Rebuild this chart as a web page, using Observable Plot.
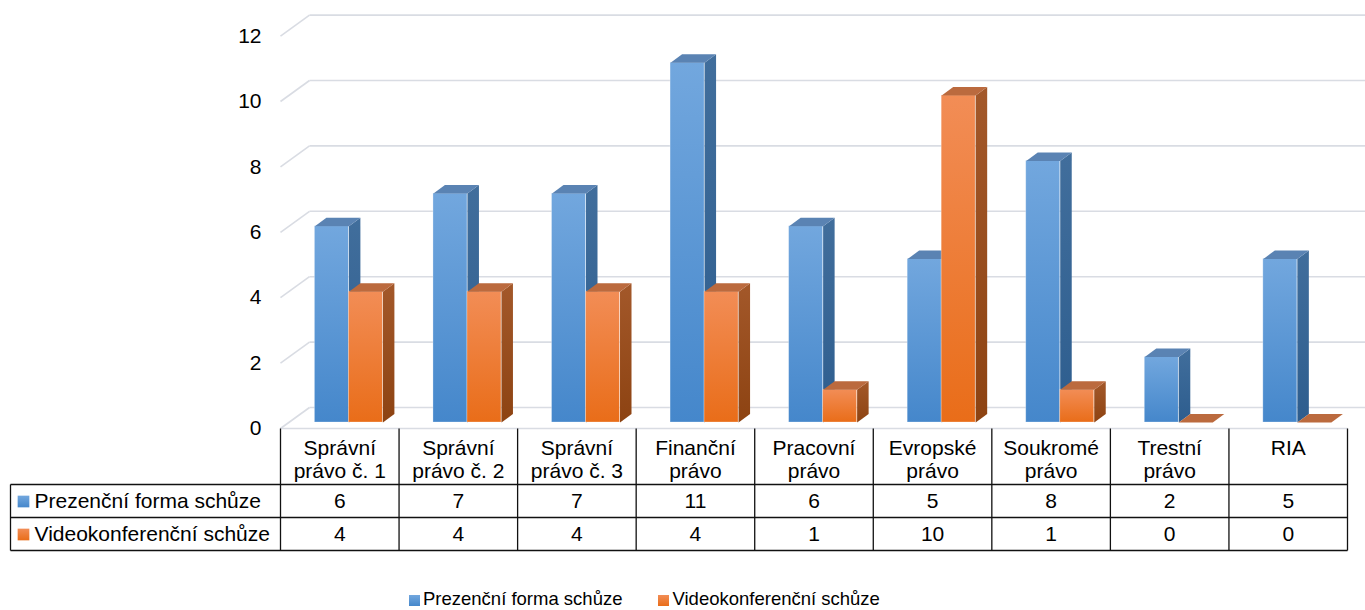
<!DOCTYPE html>
<html>
<head>
<meta charset="utf-8">
<script src="https://cdn.jsdelivr.net/npm/d3@7"></script>
<script src="https://cdn.jsdelivr.net/npm/@observablehq/plot@0.6"></script>
<style>
  body { margin: 0; background: #fff; font-family: "Liberation Sans", Arial, sans-serif; }
  #wrap { position: relative; width: 1365px; height: 610px; overflow: hidden; }
  #legend { position: absolute; left: 409px; top: 589px; height: 20px; line-height: 20px; font-size: 18.5px; color: #000; white-space: nowrap; display: flex; align-items: center; }
  .item { display: flex; align-items: center; }
  .sw { width: 11px; height: 11px; margin-right: 3px; margin-top: 3px; }
</style>
</head>
<body>
<div id="wrap">
  <div id="chart"></div>
  <div id="legend"></div>
</div>
<script>
// ---- data ----
const categories = ["Správní\nprávo č. 1", "Správní\nprávo č. 2", "Správní\nprávo č. 3", "Finanční\nprávo", "Pracovní\nprávo", "Evropské\nprávo", "Soukromé\nprávo", "Trestní\nprávo", "RIA"];
const prezencni = [6, 7, 7, 11, 6, 5, 8, 2, 5];
const videokonference = [4, 4, 4, 4, 1, 10, 1, 0, 0];
const seriesNames = ["Prezenční forma schůze", "Videokonferenční schůze"];
const yTicks = [0, 2, 4, 6, 8, 10, 12];

// ---- layout ----
const W = 1365, H = 588;
const X0 = 280, X1 = 1347, Y0 = 422, K = 32.7;
const N = categories.length;
const XU = (X1 - X0) / N;
const hx = p => p / XU;      // horizontal pixels -> x units
const vy = p => p / K;       // vertical pixels -> y units
const BAR_OFF = hx(34.4), BAR_W = hx(34);
const DEP_X = hx(11.5), DEP_Y = vy(8.5);
const WALL_X = hx(29), WALL_Y = vy(15), FRONT_Y = vy(6);
const RIGHT = hx(W - X0);

const seriesVals = [prezencni, videokonference];
const bars = [];
seriesVals.forEach((vals, s) => vals.forEach((v, i) => {
  const xl = i + BAR_OFF + s * BAR_W;
  bars.push({ s, i, v, xl, xr: xl + BAR_W });
}));
const sides = bars.flatMap((b, k) => [
  { id: k, s: b.s, x: b.xr, y: 0 },
  { id: k, s: b.s, x: b.xr, y: b.v },
  { id: k, s: b.s, x: b.xr + DEP_X, y: b.v + DEP_Y },
  { id: k, s: b.s, x: b.xr + DEP_X, y: DEP_Y }
]);
const tops = bars.flatMap((b, k) => [
  { id: k, s: b.s, x: b.xl, y: b.v },
  { id: k, s: b.s, x: b.xr, y: b.v },
  { id: k, s: b.s, x: b.xr + DEP_X, y: b.v + DEP_Y },
  { id: k, s: b.s, x: b.xl + DEP_X, y: b.v + DEP_Y }
]);

const frontFill = ["url(#gBlueF)", "url(#gOrF)"];
const sideFill = ["url(#gBlueS)", "url(#gOrS)"];
const topFill = ["#5a83b3", "#bb6a3e"];

const FONT = "'Liberation Sans', Arial, sans-serif";
const GRID = "#d9dce3";
const LINE = "#111";
const rowDy = [79, 112];
const tableBottom = 128; // px below Y0

function defs() {
  const ns = "http://www.w3.org/2000/svg";
  const d = document.createElementNS(ns, "defs");
  d.innerHTML = `
    <linearGradient id="gBlueF" x1="0" y1="0" x2="0" y2="1"><stop offset="0" stop-color="#72a7de"/><stop offset="1" stop-color="#4587cb"/></linearGradient>
    <linearGradient id="gOrF" x1="0" y1="0" x2="0" y2="1"><stop offset="0" stop-color="#f28d56"/><stop offset="1" stop-color="#e96d19"/></linearGradient>
    <linearGradient id="gBlueS" x1="0" y1="0" x2="0" y2="1"><stop offset="0" stop-color="#416e9c"/><stop offset="1" stop-color="#2d5d8e"/></linearGradient>
    <linearGradient id="gOrS" x1="0" y1="0" x2="0" y2="1"><stop offset="0" stop-color="#a3582a"/><stop offset="1" stop-color="#8d4312"/></linearGradient>`;
  return d;
}

const barMarks = [];
[0, 1].forEach(s => {
  barMarks.push(
    Plot.rectY(bars.filter(b => b.s === s), { x1: "xl", x2: "xr", y1: () => 0, y2: "v", fill: frontFill[s], stroke: "rgba(255,255,255,0.35)", strokeWidth: 0.8 }),
    Plot.line(sides.filter(p => p.s === s), { x: "x", y: "y", z: "id", fill: sideFill[s], stroke: "none" }),
    Plot.line(tops.filter(p => p.s === s), { x: "x", y: "y", z: "id", fill: topFill[s], stroke: "none" })
  );
});

const chart = Plot.plot({
  width: W,
  height: H,
  margin: 0,
  x: { domain: [0, N], range: [X0, X1], axis: null },
  y: { domain: [0, 12], range: [Y0, Y0 - 12 * K], axis: null },
  style: { fontFamily: FONT, background: "#fff" },
  marks: [
    defs,
    // back wall gridlines
    Plot.link(yTicks, { x1: () => WALL_X, x2: () => RIGHT, y1: v => v + WALL_Y, y2: v => v + WALL_Y, stroke: GRID, strokeWidth: 1.6 }),
    // left wall diagonals
    Plot.link(yTicks, { x1: () => 0, x2: () => WALL_X, y1: v => v - FRONT_Y, y2: v => v + WALL_Y, stroke: GRID, strokeWidth: 1.6 }),
    // floor front edge
    Plot.link([0], { x1: () => 0, x2: () => N, y1: () => -FRONT_Y, y2: () => -FRONT_Y, stroke: GRID, strokeWidth: 1.6 }),
    // y tick labels
    Plot.text(yTicks, { x: () => 0, y: v => v - FRONT_Y, dx: -19, text: v => String(v), textAnchor: "end", fontSize: 21, fill: "#000" }),
    ...barMarks,
    // data table: vertical lines
    Plot.link(d3.range(N + 1), { x1: d => d, x2: d => d, y1: () => -FRONT_Y, y2: () => -vy(tableBottom), stroke: LINE, strokeWidth: 1.3 }),
    // left edge of label column
    Plot.link([0], { x1: () => hx(10 - X0), x2: () => hx(10 - X0), y1: () => -vy(62), y2: () => -vy(tableBottom), stroke: LINE, strokeWidth: 1.3 }),
    // horizontal lines
    Plot.link([62, 95, tableBottom], { x1: () => hx(10 - X0), x2: () => N, y1: d => -vy(d), y2: d => -vy(d), stroke: LINE, strokeWidth: 1.3 }),
    // category names
    Plot.text(categories, { x: (d, i) => i + 0.5, y: () => 0, dy: 15, text: d => d, lineAnchor: "top", lineHeight: 1.14, fontSize: 21, fill: "#000" }),
    // values
    ...seriesVals.map((vals, s) =>
      Plot.text(vals, { x: (d, i) => i + 0.5, y: () => 0, dy: rowDy[s], text: d => String(d), fontSize: 21, fill: "#000" })
    ),
    // row labels
    ...seriesNames.map((name, s) => Plot.text([name], { x: () => 0, y: () => 0, dx: 34 - X0, dy: rowDy[s], text: d => d, textAnchor: "start", fontSize: 21, fill: "#000" })),
    ...seriesNames.map((name, s) => Plot.dot([name], { x: () => 0, y: () => 0, dx: 23 - X0, dy: rowDy[s], symbol: "square", r: 6.6, fill: s === 0 ? "url(#gBlueF)" : "url(#gOrF)", stroke: "none" }))
  ]
});
document.getElementById("chart").appendChild(chart);

// legend
const legend = document.getElementById("legend");
const swatchColors = ["linear-gradient(#72a7de,#4587cb)", "linear-gradient(#f28d56,#e96d19)"];
seriesNames.forEach((name, s) => {
  const item = document.createElement("div");
  item.className = "item";
  if (s > 0) item.style.marginLeft = "36px";
  const sw = document.createElement("div");
  sw.className = "sw";
  sw.style.background = swatchColors[s];
  const t = document.createElement("span");
  t.textContent = name;
  item.appendChild(sw);
  item.appendChild(t);
  legend.appendChild(item);
});
</script>
</body>
</html>
